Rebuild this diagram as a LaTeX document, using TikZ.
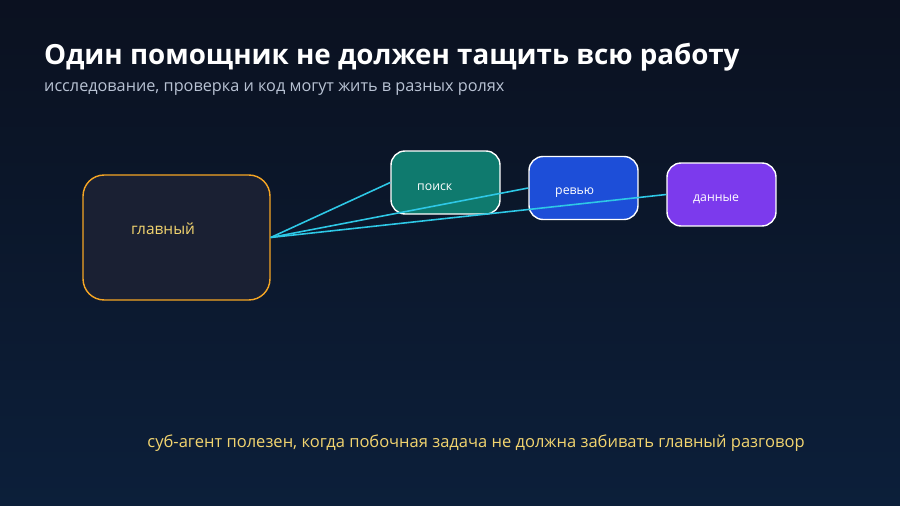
\documentclass[tikz,border=0pt]{standalone}
\usepackage{fontspec}
\setmainfont{Open Sans}
\usetikzlibrary{positioning}
\definecolor{bgtop}{HTML}{0B1120}
\definecolor{bgbot}{HTML}{0C1F3A}
\definecolor{mainfill}{HTML}{1A2033}
\definecolor{mainedge}{HTML}{F5A524}
\definecolor{labyel}{HTML}{F2D46F}
\definecolor{subgray}{HTML}{B8C2D3}
\definecolor{searchfill}{HTML}{0F7A6E}
\definecolor{reviewfill}{HTML}{1D4ED8}
\definecolor{datafill}{HTML}{7C3AED}
\definecolor{linkcyan}{HTML}{2EC8E6}
\tikzset{
  agent/.style={draw=white, line width=0.8pt, rounded corners=8pt, minimum width=2.18cm, minimum height=1.26cm},
  link/.style={draw=linkcyan, line width=0.9pt},
  tag/.style={text=white, font=\fontsize{7}{8}\selectfont, anchor=west}
}
\begin{document}
\begin{tikzpicture}[x=0.02cm,y=-0.02cm]
        % background
        \shade[top color=bgtop, bottom color=bgbot] (0,0) rectangle (900,506);
        \useasboundingbox (0,0) rectangle (900,506);

        % the texts
        \node[anchor=west, text=white, font=\fontsize{15.8}{18}\selectfont\bfseries] (title) at (38,57) {Один помощник не должен тащить всю работу};
        \node[anchor=west, text=subgray, font=\fontsize{9.25}{11}\selectfont] (subtitle) at (38,89) {исследование, проверка и код могут жить в разных ролях};

        % the main agent
        \node[draw=mainedge, fill=mainfill, line width=0.8pt, rounded corners=12pt, minimum width=3.74cm, minimum height=2.5cm] (main) at (176.5,237.5) {};
        \node[text=labyel, font=\fontsize{8.8}{10}\selectfont] (mainlabel) at (163,229) {главный};

        % the sub-agents
        \node[agent, fill=searchfill] (search) at (445.5,182.5) {};
        \node[agent, fill=reviewfill] (review) at (583.5,188) {};
        \node[agent, fill=datafill] (data) at (721.5,194.5) {};
        \node[tag] (searchlabel) at (411,187) {поиск};
        \node[tag] (reviewlabel) at (549,193) {ревью};
        \node[tag] (datalabel) at (687,199) {данные};

        % draw the links
        \draw[link] (main.east) -- (search.west);
        \draw[link] (main.east) -- (review.west);
        \draw[link] (main.east) -- (data.west);

        % the note
        \node[text=labyel, font=\fontsize{9.4}{11}\selectfont] (note) at (476,443) {суб-агент полезен, когда побочная задача не должна забивать главный разговор};
\end{tikzpicture}
\end{document}
